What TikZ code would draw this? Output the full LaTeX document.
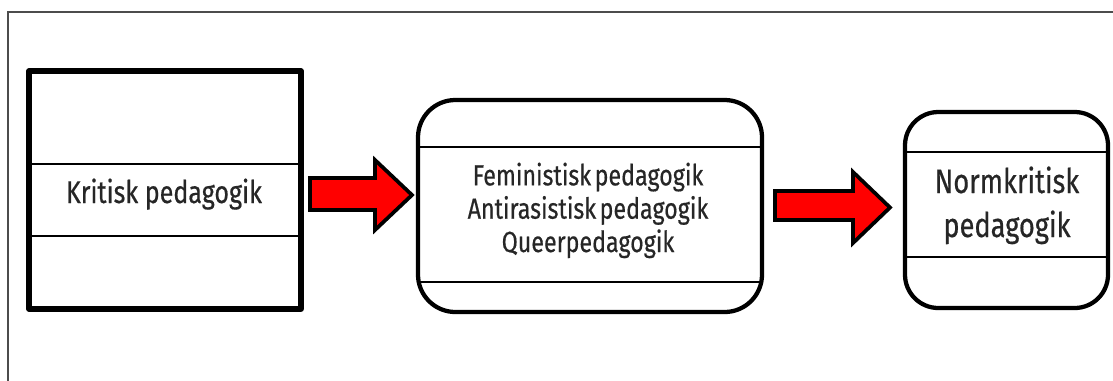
\documentclass[tikz,border=0pt]{standalone}
\usepackage{fontspec}
\setmainfont[FakeStretch=0.8,FakeBold=0.5]{Fira Sans}
\newcommand\tightspace{\spaceskip=0.12em\relax}
\begin{document}
\begin{tikzpicture}[x=0.75pt,y=-0.75pt,
  frame/.style={line width=1.1pt,draw=black!70},
  boxA/.style={draw=black,line width=3.8pt,line join=round},
  boxR/.style={draw=black,line width=3.2pt,rounded corners=28pt},
  divider/.style={line width=0.9pt,draw=black},
  blockarrow/.style={draw=black,line width=2.8pt,fill=red,line join=miter},
  lbl/.style={inner sep=0pt,anchor=base,align=center,text=black!85}]
\useasboundingbox (0,0) rectangle (1113,380);
% outer frame (only top and left visible)
\draw[frame] (8,382) -- (8,12) -- (1115,12);
% box 1
\draw[boxA] (29,71) rectangle (301,309);
\draw[divider] (29,164) -- (301,164);
\draw[divider] (29,236) -- (301,236);
\node[lbl,font=\fontsize{23.5}{28}\selectfont] (t1) at (164,203) {Kritisk pedagogik};
% box 2
\draw[boxR] (418,100) rectangle (762,312);
\draw[divider] (418,147) -- (762,147);
\draw[divider] (418,282) -- (762,282);
\node[lbl,font=\fontsize{21.8}{25}\selectfont\tightspace] (t2) at (588,252) {Feministisk pedagogik\\Antirasistisk pedagogik\\Queerpedagogik};
% box 3
\draw[boxR,rounded corners=25pt] (905,112) rectangle (1108,308);
\draw[divider] (905,152) -- (1108,152);
\draw[divider] (905,257) -- (1108,257);
\node[lbl,font=\fontsize{25.5}{33}\selectfont] (t3) at (1007,237) {Normkritisk\\pedagogik};
% block arrows
\draw[blockarrow] (310,178) -- (375,178) -- (375,160) -- (412,195) -- (375,230) -- (375,210) -- (310,210) -- cycle;
\draw[blockarrow] (775,191) -- (853,191) -- (853,172) -- (890,207.5) -- (853,243) -- (853,220) -- (775,220) -- cycle;
\end{tikzpicture}
\end{document}
